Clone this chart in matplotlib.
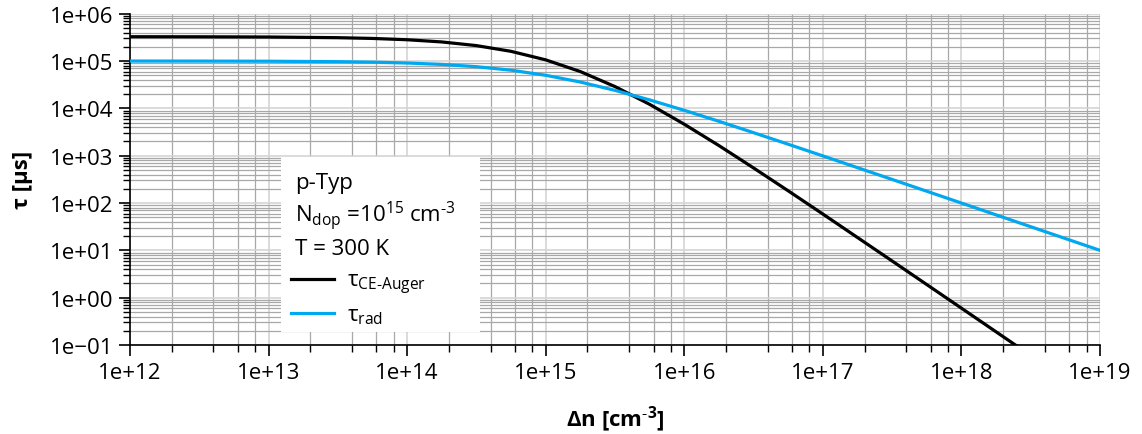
import matplotlib
matplotlib.use("Agg")
import matplotlib.pyplot as plt
from matplotlib.ticker import LogLocator, FuncFormatter, NullFormatter
from matplotlib.patches import Rectangle

plt.rcParams['font.family'] = ['Open Sans', 'Noto Sans', 'DejaVu Sans']
plt.rcParams['mathtext.default'] = 'regular'

# injection level Δn [cm^-3]
delta_n = [1e12, 3.16e12, 1e13, 3.16e13, 5.62e13, 1e14, 1.78e14, 3.16e14, 5.62e14,
           1e15, 1.78e15, 3.16e15, 5.62e15, 1e16, 1.78e16, 3.16e16, 5.62e16,
           1e17, 3.16e17, 1e18, 3.16e18, 1e19]
# lifetimes [µs]
tau_auger = [3.263e5, 3.252e5, 3.218e5, 3.114e5, 3.002e5, 2.818e5, 2.531e5, 2.119e5, 1.603e5,
             1.059e5, 5.987e4, 2.891e4, 1.218e4, 4624, 1634, 551.8, 181.2,
             58.57, 5.970, 0.6007, 0.06019, 0.006022]
tau_rad = [99900, 99685, 99010, 96937, 94677, 90909, 84890, 75975, 64008,
           50000, 35993, 24025, 15098, 9091, 5324, 3065, 1747,
           990.1, 315.2, 99.9, 31.61, 10.0]

info_lines = ['p-Typ', 'N$_{dop}$ =10$^{15}$ cm$^{\u20103}$', 'T = 300 K']
labels = ['τ$_{CE\u2010Auger}$', 'τ$_{rad}$']

fig = plt.figure(figsize=(11.42, 4.35), dpi=100)
ax = fig.add_axes([0.1138, 0.2046, 0.8494, 0.7616])

ax.plot(delta_n, tau_auger, color='black', lw=2.3, label=labels[0], zorder=3)
ax.plot(delta_n, tau_rad, color='#00a8f0', lw=2.3, label=labels[1], zorder=3)

ax.set_xscale('log')
ax.set_yscale('log')
ax.set_xlim(1e12, 1e19)
ax.set_ylim(1e-1, 1e6)

ax.xaxis.set_major_locator(LogLocator(base=10, numticks=20))
ax.xaxis.set_minor_locator(LogLocator(base=10, subs=(2, 4, 6, 8), numticks=20))
ax.yaxis.set_major_locator(LogLocator(base=10, numticks=20))
ax.yaxis.set_minor_locator(LogLocator(base=10, subs=tuple(range(2, 10)), numticks=20))

fmt = FuncFormatter(lambda v, pos: f'{v:.0e}'.replace('-', '\u2212'))
ax.xaxis.set_major_formatter(fmt)
ax.yaxis.set_major_formatter(fmt)
ax.xaxis.set_minor_formatter(NullFormatter())
ax.yaxis.set_minor_formatter(NullFormatter())

ax.grid(True, which='major', color='#d4d4d4', lw=1.2, zorder=0)
ax.grid(True, which='minor', color='#a8a8a8', lw=0.9, zorder=0)
ax.set_axisbelow(True)

for side in ('top', 'right'):
    ax.spines[side].set_visible(False)
for side in ('left', 'bottom'):
    ax.spines[side].set_linewidth(1.2)

ax.tick_params(which='major', direction='out', length=8, width=1.2, labelsize=16, pad=4)
ax.tick_params(which='minor', direction='out', length=5, width=1.0)

ax.set_xlabel('Δn [cm$^{\u20103}$]', fontsize=16, fontweight='bold', labelpad=15)
ax.set_ylabel('τ [µs]', fontsize=16, fontweight='bold', labelpad=12)

# white info box with parameters and legend
ax.add_patch(Rectangle((0.1557, 0.0401), 0.2051, 0.5265, transform=ax.transAxes,
                       facecolor='white', edgecolor='none', zorder=4))
for txt, yy in zip(info_lines, [0.491, 0.390, 0.290]):
    ax.text(0.170, yy, txt, transform=ax.transAxes, fontsize=16,
            va='center', ha='left', zorder=5)

leg = ax.legend(loc='upper left', bbox_to_anchor=(0.166, 0.224), frameon=False,
                fontsize=16, borderpad=0, borderaxespad=0, handlelength=1.95,
                handletextpad=0.55, labelspacing=0.38)
leg.set_zorder(6)

fig.savefig('out.png', dpi=100)
